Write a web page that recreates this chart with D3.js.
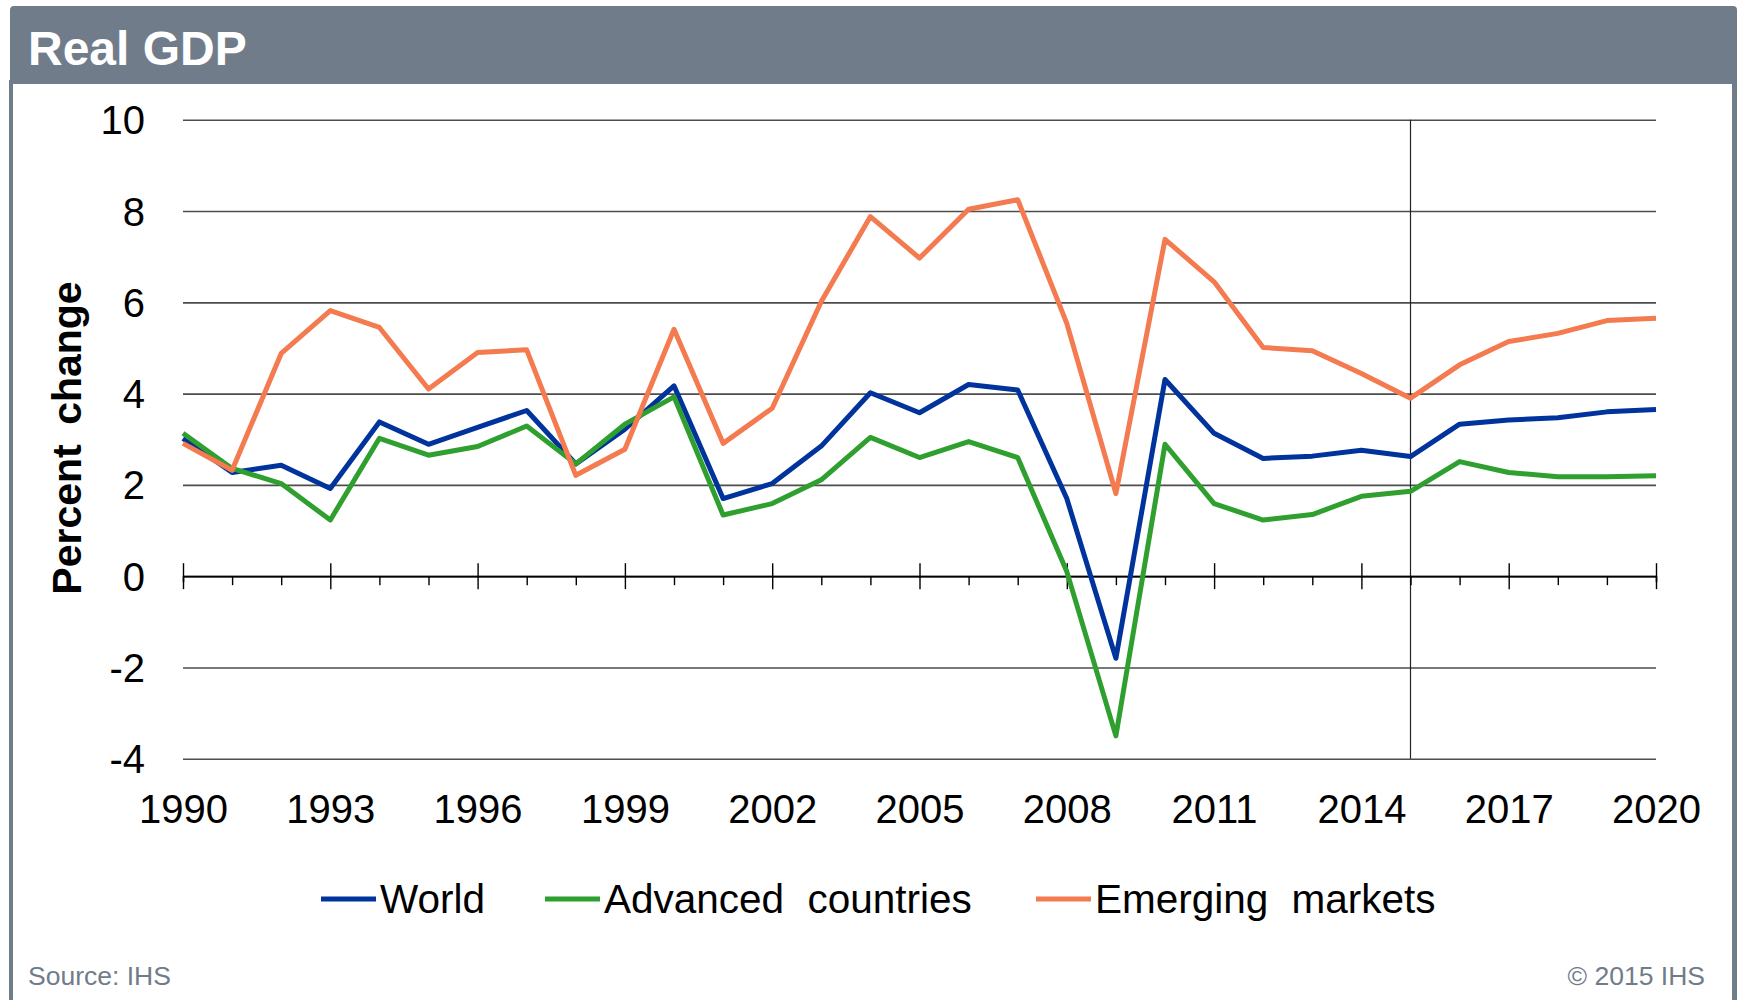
<!DOCTYPE html>
<html>
<head>
<meta charset="utf-8">
<script src="https://cdn.jsdelivr.net/npm/d3@7"></script>
<style>
  body { margin: 0; background: #fff; }
  text { font-family: "Liberation Sans", Arial, sans-serif; }
</style>
</head>
<body>
<div id="chart"></div>
<script>
// Data
const years = d3.range(1990, 2021);
const world = [3.02, 2.27, 2.43, 1.92, 3.38, 2.89, 3.26, 3.63, 2.46, 3.22, 4.17,
  1.70, 2.03, 2.85, 4.02, 3.58, 4.20, 4.08, 1.70, -1.80, 4.31,
  3.13, 2.58, 2.63, 2.76, 2.62, 3.33, 3.42, 3.47, 3.60, 3.65];
const advanced = [3.13, 2.36, 2.03, 1.23, 3.02, 2.65, 2.84, 3.29, 2.46, 3.33, 3.93,
  1.34, 1.59, 2.11, 3.04, 2.60, 2.95, 2.60, 0.10, -3.50, 2.89,
  1.59, 1.23, 1.35, 1.75, 1.86, 2.51, 2.27, 2.18, 2.18, 2.20];
const emerging = [2.91, 2.32, 4.88, 5.82, 5.45, 4.10, 4.90, 4.96, 2.21, 2.78, 5.41,
  2.91, 3.68, 6.02, 7.88, 6.97, 8.04, 8.25, 5.54, 1.81, 7.38,
  6.45, 5.01, 4.94, 4.44, 3.90, 4.63, 5.14, 5.32, 5.60, 5.65];
const seriesNames = ["World", "Advanced countries", "Emerging markets"];
const seriesColors = ["#00339c", "#2fa02f", "#f47a4f"];
const yTicks = [-4, -2, 0, 2, 4, 6, 8, 10];
const forecastYear = 2015;

const width = 1737, height = 1000;

const svg = d3.select("#chart").append("svg")
  .attr("width", width)
  .attr("height", height);

// Frame: header bar and side borders
svg.append("rect")
  .attr("x", 10).attr("y", 6)
  .attr("width", 1727).attr("height", 78)
  .attr("rx", 4)
  .style("fill", "#717c8a");
svg.append("rect")
  .attr("x", 9).attr("y", 80)
  .attr("width", 4).attr("height", 920)
  .style("fill", "#717c8a");
svg.append("rect")
  .attr("x", 1732).attr("y", 80)
  .attr("width", 5).attr("height", 920)
  .style("fill", "#717c8a");

svg.append("text")
  .attr("x", 28).attr("y", 65)
  .text("Real GDP")
  .style("font-size", "48px")
  .style("font-weight", "bold")
  .style("fill", "#fff");

// Scales
const x = d3.scaleLinear().domain([1990, 2020]).range([183, 1656]);
const y = d3.scaleLinear().domain([-4, 10]).range([758.7, 119.8]);

// Gridlines + y labels
const yAxis = svg.append("g")
  .attr("transform", `translate(${x(1990)},0)`)
  .call(d3.axisLeft(y).tickValues(yTicks).tickFormat(d => String(d))
    .tickSize(-(x(2020) - x(1990))).tickPadding(38));
yAxis.select(".domain").remove();
yAxis.selectAll(".tick line")
  .style("stroke", "#4d4d4d")
  .style("stroke-width", 1.6);
yAxis.selectAll(".tick text")
  .style("font-size", "40px")
  .style("fill", "#000")
  .attr("dy", "0.35em");

// Forecast divider
svg.append("line")
  .attr("x1", x(forecastYear)).attr("x2", x(forecastYear))
  .attr("y1", y(10)).attr("y2", y(-4))
  .style("stroke", "#222")
  .style("stroke-width", 1.2);

// Zero axis with major/minor ticks
const zeroAxis = svg.append("g")
  .attr("transform", `translate(0,${y(0)})`)
  .call(d3.axisBottom(x).tickValues(years).tickFormat(""));
zeroAxis.select(".domain")
  .style("stroke", "#000")
  .style("stroke-width", 1.6);
zeroAxis.selectAll(".tick line")
  .style("stroke", "#000")
  .style("stroke-width", 1.4)
  .attr("y1", d => (d - 1990) % 3 === 0 ? -13 : 0)
  .attr("y2", d => (d - 1990) % 3 === 0 ? 13 : 9);

// Year labels at bottom
const xLabels = svg.append("g")
  .attr("transform", `translate(0,${y(-4)})`)
  .call(d3.axisBottom(x).tickValues(years.filter(d => (d - 1990) % 3 === 0))
    .tickFormat(d3.format("d")).tickSize(0));
xLabels.select(".domain").remove();
xLabels.selectAll(".tick text")
  .attr("y", 64)
  .attr("dy", 0)
  .style("font-size", "40px")
  .style("fill", "#000");

// Y axis title
svg.append("text")
  .attr("transform", "translate(81,438) rotate(-90)")
  .attr("text-anchor", "middle")
  .text("Percent change")
  .style("font-size", "41px")
  .style("font-weight", "bold")
  .style("word-spacing", "8px")
  .style("fill", "#000");

// Lines
const line = d3.line()
  .x((d, i) => x(years[i]))
  .y(d => y(d));

[world, advanced, emerging].forEach((vals, k) => {
  svg.append("path")
    .datum(vals)
    .attr("d", line)
    .style("fill", "none")
    .style("stroke", seriesColors[k])
    .style("stroke-width", 5)
    .style("stroke-linejoin", "round");
});

// Legend
const legendX = [321, 545, 1036];
const legend = svg.selectAll(".legend")
  .data(seriesNames)
  .enter()
  .append("g")
  .attr("class", "legend")
  .attr("transform", (d, i) => `translate(${legendX[i]},899)`);
legend.append("line")
  .attr("x1", 0).attr("x2", 55)
  .style("stroke", (d, i) => seriesColors[i])
  .style("stroke-width", 5);
legend.append("text")
  .attr("x", 59).attr("y", 14)
  .text(d => d)
  .style("font-size", "40.5px")
  .style("word-spacing", "12px")
  .style("fill", "#000");

// Footer
svg.append("text")
  .attr("x", 28).attr("y", 985)
  .text("Source: IHS")
  .style("font-size", "26.5px")
  .style("fill", "#717c8a");
svg.append("text")
  .attr("x", 1705).attr("y", 985)
  .attr("text-anchor", "end")
  .text("© 2015 IHS")
  .style("font-size", "26.5px")
  .style("fill", "#717c8a");
</script>
</body>
</html>
